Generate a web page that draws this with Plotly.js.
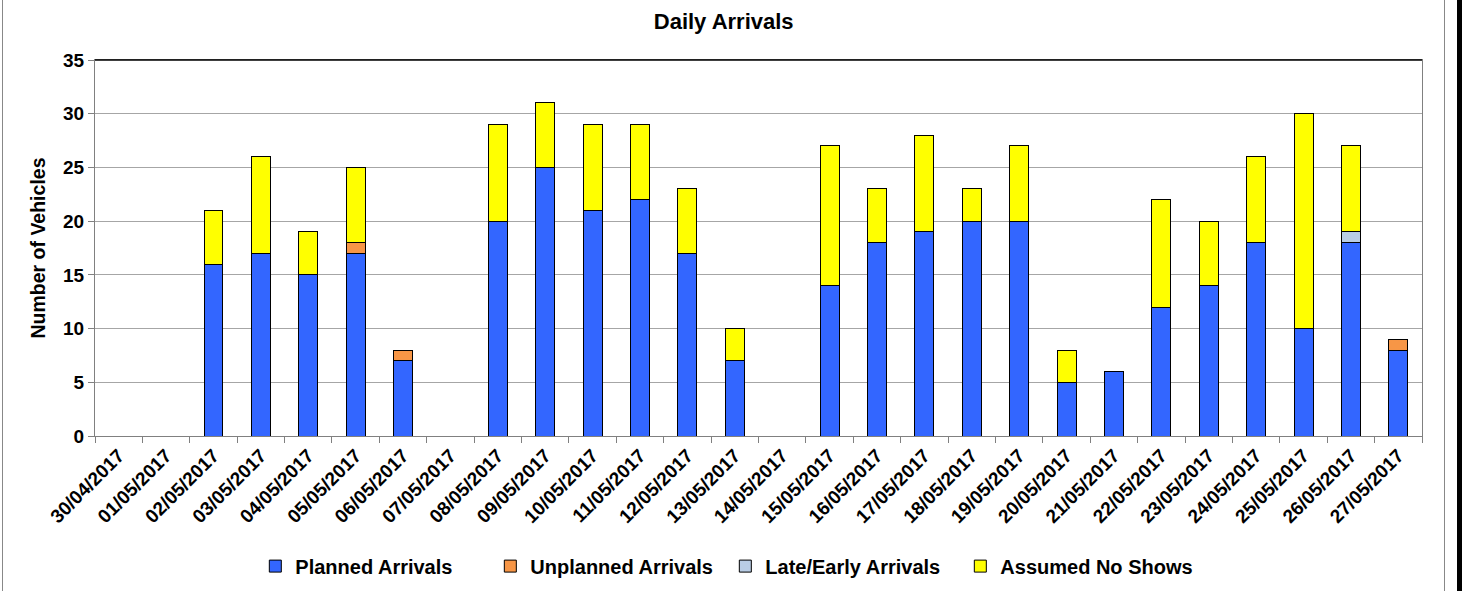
<!DOCTYPE html>
<html>
<head>
<meta charset="utf-8">
<script src="https://cdn.plot.ly/plotly-3.0.1.min.js"></script>
<style>
  body { margin: 0; background: #fff; }
  #wrap { position: relative; width: 1462px; height: 591px; overflow: hidden; }
  #chart_div { width: 1462px; height: 591px; }
  .frame { position: absolute; top: 0; height: 591px; pointer-events: none; }
</style>
</head>
<body>
<div id="wrap">
  <div id="chart_div"></div>
  <div class="frame" style="left:2px;width:1px;background:#888;"></div>
  <div class="frame" style="left:1444px;width:1px;background:#888;"></div>
  <div class="frame" style="left:1457px;width:5px;background:#000;"></div>
</div>
<script>
var dates = ['30/04/2017', '01/05/2017', '02/05/2017', '03/05/2017', '04/05/2017', '05/05/2017', '06/05/2017',
             '07/05/2017', '08/05/2017', '09/05/2017', '10/05/2017', '11/05/2017', '12/05/2017', '13/05/2017',
             '14/05/2017', '15/05/2017', '16/05/2017', '17/05/2017', '18/05/2017', '19/05/2017', '20/05/2017',
             '21/05/2017', '22/05/2017', '23/05/2017', '24/05/2017', '25/05/2017', '26/05/2017', '27/05/2017'];

var planned   = [0, 0, 16, 17, 15, 17, 7, 0, 20, 25, 21, 22, 17, 7, 0, 14, 18, 19, 20, 20, 5, 6, 12, 14, 18, 10, 18, 8];
var unplanned = [0, 0, 0, 0, 0, 1, 1, 0, 0, 0, 0, 0, 0, 0, 0, 0, 0, 0, 0, 0, 0, 0, 0, 0, 0, 0, 0, 1];
var late_early = [0, 0, 0, 0, 0, 0, 0, 0, 0, 0, 0, 0, 0, 0, 0, 0, 0, 0, 0, 0, 0, 0, 0, 0, 0, 0, 1, 0];
var no_shows  = [0, 0, 5, 9, 4, 7, 0, 0, 9, 6, 8, 7, 6, 3, 0, 13, 5, 9, 3, 7, 3, 0, 10, 6, 8, 20, 8, 0];

var y_ticks = [0, 5, 10, 15, 20, 25, 30, 35];

var font_family = 'Liberation Sans, Arial, sans-serif';

function make_trace(values, name, colour)
{
    return {
        type: 'bar',
        x: dates,
        y: values,
        name: name,
        marker: {
            color: colour,
            line: { color: '#000000', width: 1 }
        },
        hoverinfo: 'x+y+name'
    };
}

function plot_arrivals()
{
    var traces = [
        make_trace(planned, 'Planned Arrivals', '#3366ff'),
        make_trace(unplanned, 'Unplanned Arrivals', '#f79646'),
        make_trace(late_early, 'Late/Early Arrivals', '#b9cde5'),
        make_trace(no_shows, 'Assumed No Shows', '#ffff00')
    ];

    var layout = {
        width: 1462,
        height: 591,
        barmode: 'stack',
        bargap: 0.6,
        paper_bgcolor: '#ffffff',
        plot_bgcolor: '#ffffff',
        margin: { l: 95, r: 40, t: 60, b: 155, autoexpand: false },
        font: { family: font_family, color: '#000000' },
        title: {
            text: 'Daily Arrivals',
            font: { size: 22, weight: 'bold', family: font_family },
            xref: 'container',
            x: 0.495,
            xanchor: 'center',
            yref: 'container',
            y: 0.964,
            yanchor: 'middle'
        },
        showlegend: true,
        legend: {
            orientation: 'h',
            xref: 'paper',
            x: 0.475,
            xanchor: 'center',
            y: -0.346,
            yanchor: 'middle',
            font: { size: 20, weight: 'bold', family: font_family },
            itemwidth: 30,
            entrywidth: 190,
            traceorder: 'normal'
        },
        xaxis: {
            type: 'category',
            automargin: false,
            tickangle: -45,
            tickfont: { size: 19, weight: 'bold', family: font_family },
            showline: true,
            linecolor: '#808080',
            linewidth: 1,
            mirror: true,
            ticks: 'outside',
            tickson: 'boundaries',
            ticklen: 6,
            tickcolor: '#808080',
            showgrid: false,
            zeroline: false
        },
        yaxis: {
            automargin: false,
            title: {
                text: 'Number of Vehicles',
                font: { size: 19.5, weight: 'bold', family: font_family },
                standoff: 12
            },
            range: [0, 35],
            tickvals: y_ticks,
            tickfont: { size: 19, weight: 'bold', family: font_family },
            showline: true,
            linecolor: '#808080',
            linewidth: 1,
            mirror: true,
            ticks: 'outside',
            ticklen: 6,
            tickcolor: '#808080',
            showgrid: true,
            gridcolor: '#a6a6a6',
            gridwidth: 1,
            zeroline: false
        },
        shapes: [
            {
                type: 'line',
                xref: 'paper',
                yref: 'paper',
                x0: 0, x1: 1,
                y0: 1, y1: 1,
                line: { color: '#000000', width: 1.5 }
            }
        ]
    };

    Plotly.newPlot('chart_div', traces, layout, { displayModeBar: false, staticPlot: true });
}

plot_arrivals();
</script>
</body>
</html>
